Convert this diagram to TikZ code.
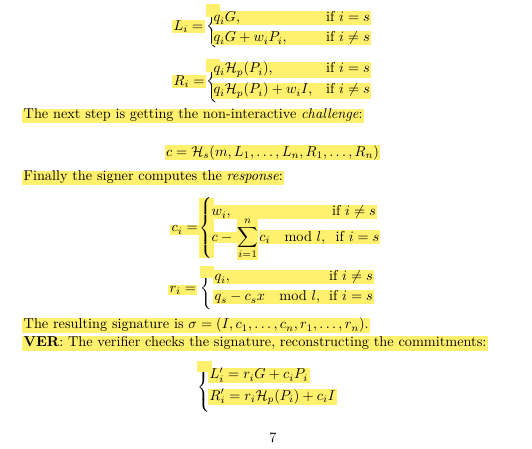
\documentclass[tikz,border=0pt]{standalone}
\usepackage{amsmath,amssymb}
\usetikzlibrary{positioning}
\definecolor{marker}{RGB}{255,240,110}
\tikzset{%
  hl/.style = {fill=marker,inner xsep=1pt,inner ysep=0.4pt,anchor=base west},
  plain/.style = {inner sep=0pt,anchor=base},
  brace/.style = {inner sep=0pt,anchor=west}
}
\newcommand{\caserow}[3]{\makebox[#1][s]{$#2$\hfill #3}}
\newcommand{\bigbrace}[1]{\delimiterfactor=1000 \delimitershortfall=0pt
  $\left\{\vrule height \dimexpr#1+2.5pt\relax depth \dimexpr#1-2.5pt\relax width 0pt\right.$}

\begin{document}
\begin{tikzpicture}[x=0.6993pt,y=-0.6993pt]
   \useasboundingbox (0,0) rectangle (532,449);

   \node[hl] (Leq) at (172,30) {$L_i =$};
   \node[brace] (Lbr) at (206,26) {\bigbrace{14.7pt}};
   \fill[marker] (Lbr.north west) rectangle ([yshift=-9pt]Lbr.north east);
   \node[hl] (Lone) at (212,22) {\caserow{109.2pt}{q_iG,}{if $i=s$}};
   \node[hl] (Ltwo) at (212,42) {\caserow{109.2pt}{q_iG+w_iP_i,}{if $i\neq s$}};

   \node[hl] (Req) at (172,85) {$R_i =$};
   \node[brace] (Rbr) at (206,81) {\bigbrace{14.7pt}};
   \fill[marker] (Rbr.north west) rectangle ([yshift=-9pt]Rbr.north east);
   \node[hl] (Rone) at (212,73) {\caserow{109.2pt}{q_i\mathcal{H}_p(P_i),}{if $i=s$}};
   \node[hl] (Rtwo) at (212,94) {\caserow{109.2pt}{q_i\mathcal{H}_p(P_i)+w_iI,}{if $i\neq s$}};

   \node[hl] (challenge) at (22,119) {The next step is getting the non-interactive \emph{challenge}:};
   \node[hl,anchor=base] (hash) at (272.5,156) {$c=\mathcal{H}_s(m,L_1,\dots,L_n,R_1,\dots,R_n)$};
   \node[hl] (response) at (22,181) {Finally the signer computes the \emph{response}:};

   \node[hl] (ceq) at (170,232) {$c_i =$};
   \node[brace,fill=marker] (cbr) at (199,228) {\bigbrace{18.5pt}};
   \node[hl] (cone) at (210,216) {\caserow{114.8pt}{w_i,}{if $i\neq s$}};
   \node[hl] (ctwoa) at (210,241) {$c-{}$};
   \node[hl,inner xsep=0pt] (ctwob) at (ctwoa.base east) {$\displaystyle\sum_{i=1}^{n}$};
   \node[hl,inner xsep=0.5pt] (ctwoc) at (ctwob.base east) {\caserow{84pt}{c_i\quad\mathrm{mod}\ l,}{if $i=s$}};

   \node[hl] (req) at (168,292) {$r_i =$};
   \node[brace] (rbr) at (200,288) {\bigbrace{15pt}};
   \fill[marker] (rbr.north west) rectangle ([yshift=-8pt]rbr.north east);
   \node[hl] (rone) at (213,281) {\caserow{110.6pt}{q_i,}{if $i\neq s$}};
   \node[hl] (rtwo) at (213,301) {\caserow{110.6pt}{q_s-c_sx\quad\mathrm{mod}\ l,}{if $i=s$}};

   \node[hl] (signature) at (22,329) {The resulting signature is $\sigma=(I,c_1,\dots,c_n,r_1,\dots,r_n)$.};
   \node[hl] (ver) at (22,347) {\textbf{VER}: The verifier checks the signature, reconstructing the commitments:};

   \node[brace] (vbr) at (197,387) {\bigbrace{15.5pt}};
   \fill[marker] (vbr.north west) rectangle ([yshift=-8pt]vbr.north east);
   \node[hl] (vone) at (208,379) {$L'_i=r_iG+c_iP_i$};
   \node[hl] (vtwo) at (208,400) {$R'_i=r_i\mathcal{H}_p(P_i)+c_iI$};

   \node[plain] (page) at (273,442) {7};
\end{tikzpicture}
\end{document}
